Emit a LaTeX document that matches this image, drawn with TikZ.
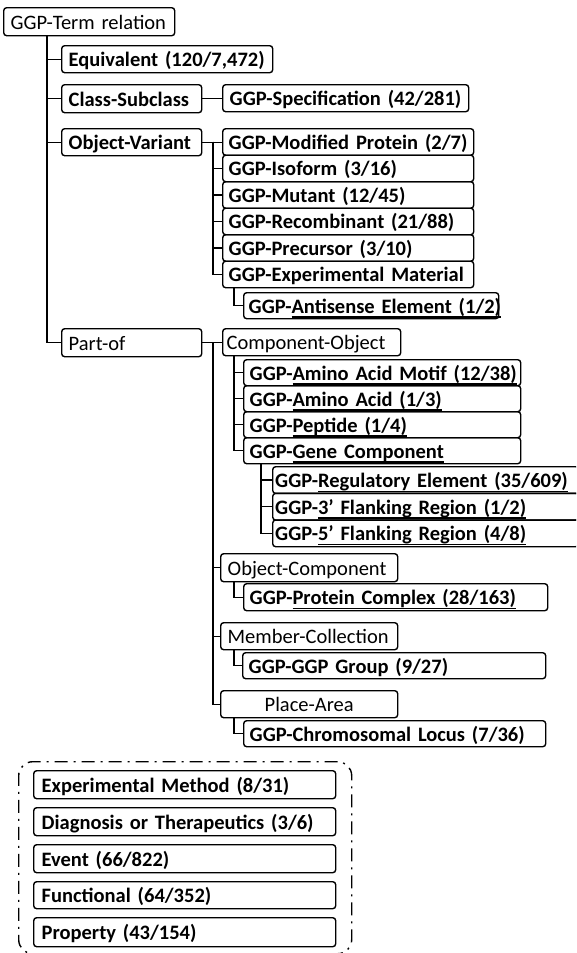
\documentclass[tikz,border=0pt]{standalone}
\usepackage{fontspec}
\setmainfont{Carlito}
\newsavebox\ulbox
\newcommand{\ulx}[1]{\sbox\ulbox{#1}\rlap{\rule[-4.5pt]{\wd\ulbox}{1.4pt}}\usebox\ulbox}
\newcommand{\mybx}[7]{\pgfmathsetmacro\bxtw{#4-2*#6}\node[bxs, inner xsep=#6pt, text width=\bxtw pt, minimum height=#5pt, anchor=north west] (#1) at (#2,#3) {\mbox{#7}};}
\begin{document}
\begin{tikzpicture}[x=1pt,y=-1pt,
  bxs/.style={draw, rounded corners=3pt, line width=1.4pt, align=left, inner ysep=0pt,
    font=\fontsize{20.5}{24}\selectfont\bfseries, text height=17pt, text depth=2pt},
  conn/.style={line width=1.4pt}]
\clip (0,0) rectangle (576,953);
\mybx{root}{3}{7}{171}{28}{7}{\mdseries GGP-Term relation}
\mybx{equiv}{61}{45}{211}{27}{7}{Equivalent (120/7,472)}
\mybx{cls}{61}{84}{140}{28}{7}{Class-Subclass}
\mybx{spec}{222}{84}{246}{27}{7}{GGP-Specification (42/281)}
\mybx{ov}{61}{128}{140}{27}{7}{Object-Variant}
\mybx{mod}{222}{128}{251}{26.5}{6}{GGP-Modified Protein (2/7)}
\mybx{iso}{222}{154.5}{251}{26.5}{6}{GGP-Isoform (3/16)}
\mybx{mut}{222}{181}{251}{26.5}{6}{GGP-Mutant (12/45)}
\mybx{rec}{222}{207.5}{251}{26.5}{6}{GGP-Recombinant (21/88)}
\mybx{pre}{222}{234}{251}{26.5}{6}{GGP-Precursor (3/10)}
\mybx{expm}{222}{260.5}{251}{26.5}{6}{GGP-Experimental Material}
\mybx{anti}{243}{292}{255}{26}{5}{GGP-\ulx{Antisense Element (1/2)}}
\mybx{partof}{61}{328}{140}{28}{7}{\mdseries Part-of}
\mybx{co}{222}{328}{178}{27}{4}{\mdseries Component-Object}
\mybx{aam}{243}{359}{277}{26}{6}{GGP-\ulx{Amino Acid Motif (12/38)}}
\mybx{aa}{243}{385}{277}{26}{6}{GGP-\ulx{Amino Acid (1/3)}}
\mybx{pep}{243}{411}{277}{26}{6}{GGP-\ulx{Peptide (1/4)}}
\mybx{gc}{243}{437}{277}{26}{6}{GGP-\ulx{Gene Component}}
\mybx{reg}{272}{466}{306}{26.7}{2.5}{GGP-\ulx{Regulatory Element (35/609)}}
\mybx{fla}{272}{492.7}{306}{26.7}{2.5}{GGP-\ulx{3' Flanking Region (1/2)}}
\mybx{flb}{272}{519.3}{306}{26.7}{2.5}{GGP-\ulx{5' Flanking Region (4/8)}}
\mybx{oc}{220}{553}{177}{28}{7}{\mdseries Object-Component}
\mybx{pc}{243}{583}{304}{27}{6}{GGP-\ulx{Protein Complex (28/163)}}
\mybx{mc}{220}{622}{177}{27}{7}{\mdseries Member-Collection}
\mybx{gg}{242}{652}{303}{26}{6}{GGP-GGP Group (9/27)}
\node[bxs, align=center, minimum width=177pt, minimum height=27pt, anchor=north west] (pa) at (220,690) {\mdseries Place-Area};
\mybx{cl}{243}{720}{302}{26}{6}{GGP-Chromosomal Locus (7/36)}
\node[draw, dash pattern=on 13pt off 6pt on 2pt off 6pt, rounded corners=14pt, line width=1.4pt,
  minimum width=333pt, minimum height=192pt, inner sep=0pt, anchor=north west] (grp) at (18,761) {};
\mybx{em}{33}{770}{302}{28}{8}{Experimental Method (8/31)}
\mybx{dt}{33}{807}{302}{28}{8}{Diagnosis or Therapeutics (3/6)}
\mybx{ev}{33}{844}{302}{28}{8}{Event (66/822)}
\mybx{fn}{33}{881}{302}{27}{8}{Functional (64/352)}
\mybx{pr}{33}{917}{302}{29}{8}{Property (43/154)}
% connectors
\foreach \n in {equiv,cls,ov,partof} \draw[conn] ([xshift=44pt]root.south west) |- (\n.west);
\draw[conn] (cls.east) -- (cls.east -| spec.west);
\draw[conn] (ov.east) -- (ov.east -| mod.west);
\foreach \n in {iso,mut,rec,pre,expm} \draw[conn] ([xshift=-9pt]mod.west) |- (\n.west);
\draw[conn] ([xshift=12pt]expm.south west) |- (anti.west);
\draw[conn] (partof.east) -- (partof.east -| co.west);
\foreach \n in {oc,mc,pa} \draw[conn] ([xshift=-9pt]co.west) |- (\n.west);
\foreach \n in {aam,aa,pep,gc} \draw[conn] ([xshift=12pt]co.south west) |- (\n.west);
\foreach \n in {reg,fla,flb} \draw[conn] ([xshift=18pt]gc.south west) |- (\n.west);
\draw[conn] ([xshift=14pt]oc.south west) |- (pc.west);
\draw[conn] ([xshift=14pt]mc.south west) |- (gg.west);
\draw[conn] ([xshift=14pt]pa.south west) |- (cl.west);
\end{tikzpicture}
\end{document}
